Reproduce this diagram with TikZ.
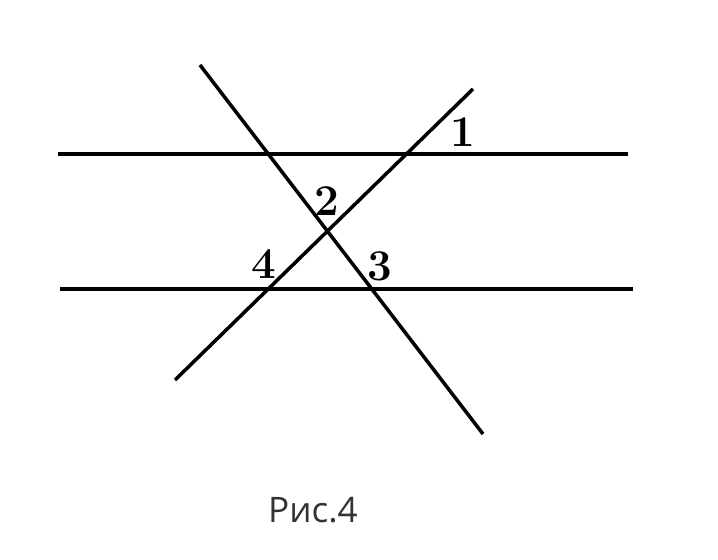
\documentclass[tikz,border=0pt]{standalone}
\usepackage{fontspec}
\usepackage{tikz}
\newfontfamily\capfont{Open Sans}
\def\numfont{\fontsize{25}{29}\selectfont\bfseries}

\begin{document}
\begin{tikzpicture}[x=0.02cm,y=-0.02cm,line width=2pt,
	num/.style={font=\numfont,inner sep=0pt}]
			\useasboundingbox (0,0) rectangle (718,560);
			\coordinate (t1) at (58,154);
			\coordinate (t2) at (628,154);
			\coordinate (b1) at (60,289);
			\coordinate (b2) at (633,289);
			\coordinate (p1) at (200,65);
			\coordinate (p2) at (483,434);
			\coordinate (q1) at (175,380);
			\coordinate (q2) at (473,89);
			\draw (t1) -- (t2);
			\draw (b1) -- (b2);
			\draw (p1) -- (p2);
			\draw (q1) -- (q2);
			\node[num] (n1) at (463,132) {1};
			\node[num] (n2) at (327,201) {2};
			\node[num] (n3) at (380,266) {3};
			\node[num] (n4) at (264,264) {4};
			\node[font=\capfont\fontsize{20}{24}\selectfont,text=black!80,inner sep=0pt] (cap) at (313,510) {Рис.4};
		\end{tikzpicture}
\end{document}
